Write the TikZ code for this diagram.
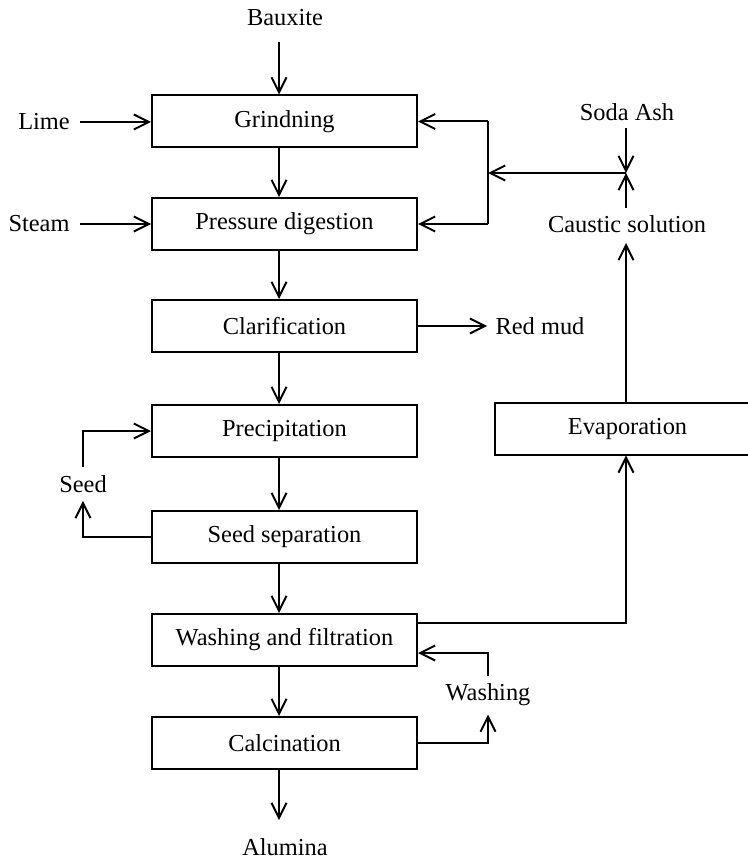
\documentclass[tikz,border=0pt]{standalone}
\usepackage{fontspec}
\setmainfont{Liberation Serif}
\usetikzlibrary{arrows.meta,calc}
\begin{document}
\begin{tikzpicture}[x=0.5pt,y=-0.5pt,
  every node/.style={font=\fontsize{12.2}{14}\selectfont},
  box/.style={draw,line width=1pt,minimum width=132.5pt,minimum height=26pt,inner sep=0pt},
  lbl/.style={inner sep=2pt},
  arr/.style={line width=1pt,-{Straight Barb[length=7.5pt,width=7.5pt,line width=1pt]}},
  ln/.style={line width=1pt}]
\useasboundingbox (0,0) rectangle (748,861);
% column coordinates
\coordinate (ax) at (279,0);
\coordinate (ex) at (626,0);
\coordinate (rx) at (488,0);
% main boxes
\node[box] (grind) at (284.5,121.5) {Grindning};
\node[box] (dig)   at (284.5,224)   {Pressure digestion};
\node[box] (clar)  at (284.5,326)   {Clarification};
\node[box] (prec)  at (284.5,431)   {Precipitation};
\node[box] (sep)   at (284.5,537)   {Seed separation};
\node[box] (wash)  at (284.5,640)   {Washing and filtration};
\node[box] (calc)  at (284.5,743)   {Calcination};
\node[minimum width=126.5pt,minimum height=26pt,inner sep=0pt] (evap) at (621.5,429) {\hspace*{6pt}Evaporation};
\draw[ln] (evap.north east) -- (evap.north west) -- (evap.south west) -- (evap.south east);
% labels
\node[lbl] (bauxite) at (285,18)  {Bauxite};
\node[lbl] (lime)    at (44,122)  {Lime};
\node[lbl] (steam)   at (39,224)  {Steam};
\node[lbl] (redmud)  at (540,326) {Red mud};
\node[lbl] (seed)    at (83,484)  {Seed};
\node[lbl] (washing) at (488,695) {Washing};
\node[lbl] (alumina) at (285,847) {Alumina};
\node[lbl] (soda)    at (627,112) {Soda Ash};
\node[lbl] (caustic) at (627,224) {Caustic solution};
\coordinate (junc) at (626,173);
% main flow
\draw[arr,shorten <=5.5pt] (bauxite.south -| ax) -- (grind.north -| ax);
\draw[arr] (grind.south -| ax) -- (dig.north -| ax);
\draw[arr] (dig.south -| ax) -- (clar.north -| ax);
\draw[arr] (clar.south -| ax) -- (prec.north -| ax);
\draw[arr] (prec.south -| ax) -- (sep.north -| ax);
\draw[arr] (sep.south -| ax) -- (wash.north -| ax);
\draw[arr] (wash.south -| ax) -- (calc.north -| ax);
\draw[arr,shorten >=7pt] (calc.south -| ax) -- (alumina.north -| ax);
% side inputs
\draw[arr,shorten <=3pt] (lime.east) -- (lime.east -| grind.west);
\draw[arr,shorten <=3pt] (steam.east) -- (steam.east -| dig.west);
\draw[arr,shorten >=2pt] (clar.east) -- (clar.east -| redmud.west);
% seed loop
\draw[arr,shorten >=2pt] (sep.west) -| (seed.south);
\draw[arr,shorten <=2pt] (seed.north) |- (prec.west);
% washing loop
\draw[arr,shorten >=2pt] (calc.east) -| (washing.south);
\draw[arr,shorten <=2pt] (washing.north) |- ($(wash.east)+(0,13)$);
% filtrate to evaporation
\draw[arr] ($(wash.east)+(0,-17)$) -| (evap.south -| ex);
\draw[arr,shorten >=3pt] (evap.north -| ex) -- (caustic.south -| ex);
% caustic and soda ash
\draw[arr,shorten <=1.5pt] (soda.south -| ex) -- (junc);
\draw[arr,shorten <=1.5pt] (caustic.north -| ex) -- (junc);
\draw[arr] (junc) -- (junc -| rx);
\draw[ln] (grind.east -| rx) -- (dig.east -| rx);
\draw[arr] (grind.east -| rx) -- (grind.east);
\draw[arr] (dig.east -| rx) -- (dig.east);
\end{tikzpicture}
\end{document}
